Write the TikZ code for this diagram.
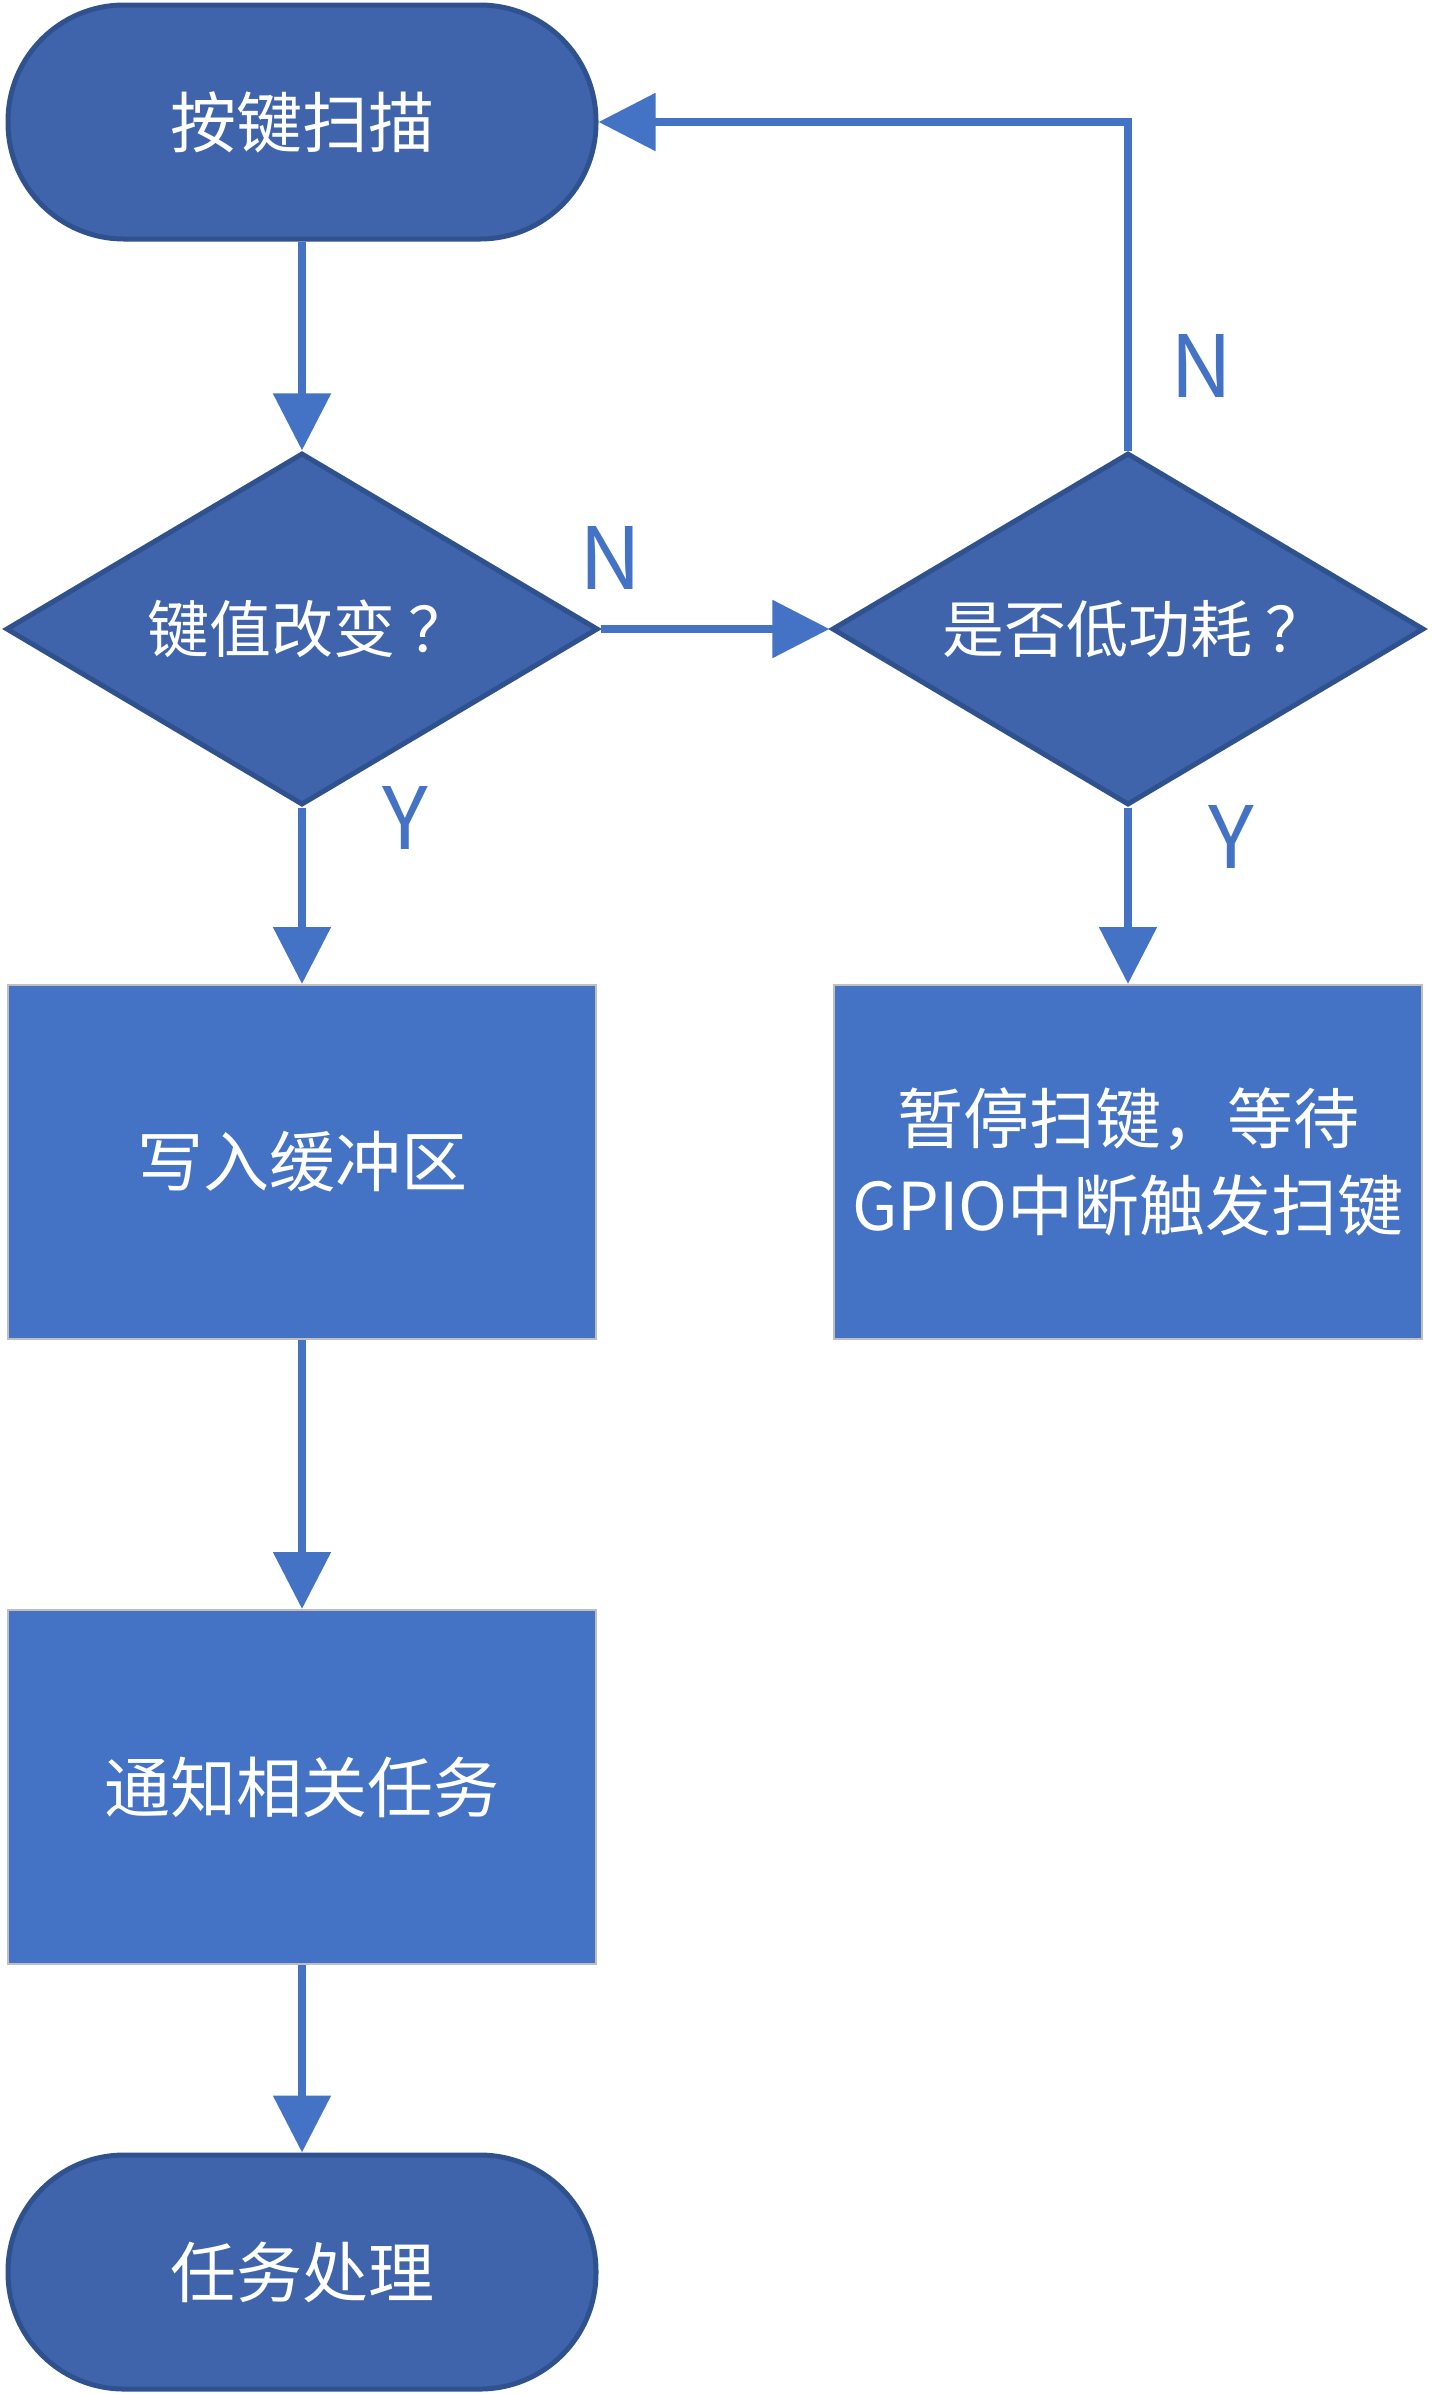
\documentclass[tikz,border=0pt]{standalone}
\usepackage{fontspec}
\setmainfont{Noto Sans CJK SC}
\usetikzlibrary{shapes.geometric, arrows.meta}
\definecolor{termblue}{HTML}{3F64AB}
\definecolor{termedge}{HTML}{2F528F}
\definecolor{boxblue}{HTML}{4472C4}
\definecolor{boxedge}{HTML}{BFBFBF}
\newcommand{\askmark}{\kern7pt？\kern-7pt}

\begin{document}
\begin{tikzpicture}[x=0.5pt, y=-0.5pt,
		terminal/.style={rectangle, rounded corners=58pt, fill=termblue, draw=termedge, line width=2.5pt, minimum width=294pt, minimum height=117pt, text=white, font=\fontsize{33}{40}\selectfont},
		decision/.style={diamond, shape aspect=1.68, fill=termblue, draw=termedge, line width=2.5pt, minimum width=296pt, minimum height=176pt, inner sep=0pt, text=white, font=\fontsize{31}{38}\selectfont},
		process/.style={rectangle, fill=boxblue, draw=boxedge, line width=1pt, minimum width=294pt, minimum height=177pt, text=white, align=center, font=\fontsize{33}{43.5}\selectfont},
		flow/.style={-{Triangle[width=28pt, length=28.5pt]}, boxblue, line width=4.3pt},
		answer/.style={text=boxblue, font=\fontsize{43}{50}\selectfont}]
		\useasboundingbox (0, 0) rectangle (1431, 2394);

		\node[terminal] (scan)		at (302, 122)	{按键扫描};
		\node[decision] (changed)	at (302, 629)	{键值改变\askmark};
		\node[decision] (lowpower)	at (1128, 629)	{是否低功耗\askmark};
		\node[process] (buffer)		at (302, 1162)	{写入缓冲区};
		\node[process] (sleep)		at (1128, 1162)	{暂停扫键，等待\\GPIO中断触发扫键};
		\node[process] (notify)		at (302, 1787)	{通知相关任务};
		\node[terminal] (handle)	at (302, 2272)	{任务处理};

		\draw[flow]	(scan) to (changed);
		\draw[flow]	(changed) to (lowpower);
		\draw[flow]	(lowpower.north) |- (scan.east);
		\draw[flow]	(changed) to (buffer);
		\draw[flow]	(lowpower) to (sleep);
		\draw[flow]	(buffer) to (notify);
		\draw[flow]	(notify) to (handle);

		\node[answer] (noChange)	at (611, 558)	{N};
		\node[answer] (noLow)		at (1202, 366)	{N};
		\node[answer] (yesChange)	at (405, 818)	{Y};
		\node[answer] (yesLow)		at (1231, 837)	{Y};
	\end{tikzpicture}
\end{document}
